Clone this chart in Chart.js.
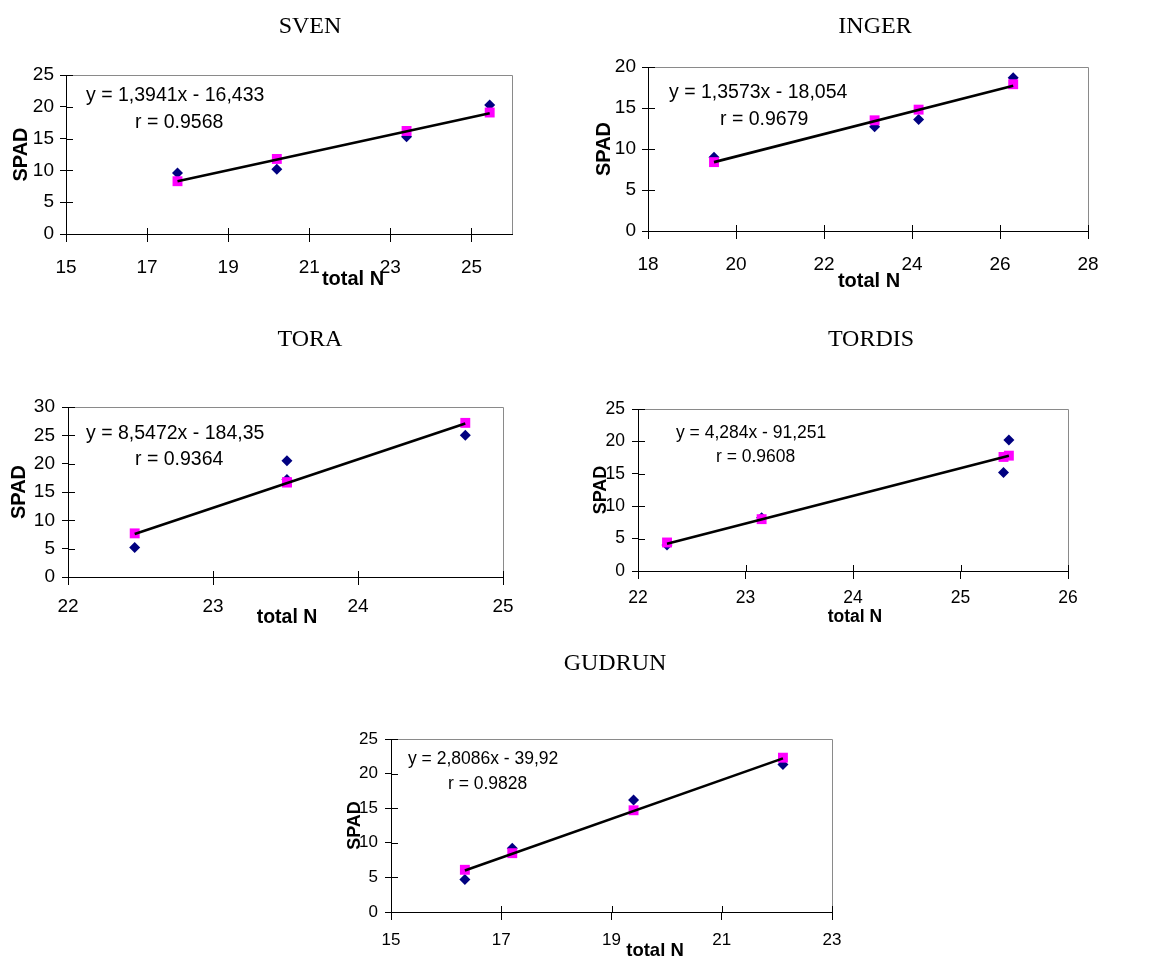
<!DOCTYPE html>
<html><head><meta charset="utf-8">
<script src="https://cdn.jsdelivr.net/npm/chart.js@4.4.0/dist/chart.umd.min.js"></script>
<style>
html,body{margin:0;padding:0;background:#fff;}
#wrap{position:relative;width:1165px;height:959px;overflow:hidden;background:#fff;}
canvas{position:absolute;left:0;top:0;}
.t{position:absolute;white-space:nowrap;line-height:1;color:#000;}
.title{font-family:"Liberation Serif","Times New Roman",serif;transform:translateX(-50%);}
.eq{font-family:"Liberation Sans",Arial,sans-serif;}
.xt{font-family:"Liberation Sans",Arial,sans-serif;font-weight:bold;transform:translateX(-50%);}
</style></head><body><div id="wrap"></div>
<script>
// ---------- data ----------
const svenN = [17.75, 20.2, 23.4, 25.45];
const svenSpad = [9.6, 10.2, 15.3, 20.3];
const svenFit = [8.3, 11.8, 16.2, 19.1];
const svenTrendN = [17.75, 25.45];
const svenTrendSpad = [8.3, 19.0];
const svenXTicks = [15, 17, 19, 21, 23, 25];
const svenYTicks = [0, 5, 10, 15, 20, 25];

const ingerN = [19.5, 23.15, 24.15, 26.3];
const ingerSpad = [9.0, 12.7, 13.6, 18.7];
const ingerFit = [8.4, 13.5, 14.8, 17.9];
const ingerTrendN = [19.5, 26.3];
const ingerTrendSpad = [8.4, 17.7];
const ingerXTicks = [18, 20, 22, 24, 26, 28];
const ingerYTicks = [0, 5, 10, 15, 20];

const toraN = [22.46, 23.51, 23.51, 24.74];
const toraSpad = [5.2, 20.5, 17.2, 25.0];
const toraFit = [7.7, 16.7, 16.7, 27.2];
const toraTrendN = [22.46, 24.74];
const toraTrendSpad = [7.6, 27.1];
const toraXTicks = [22, 23, 24, 25];
const toraYTicks = [0, 5, 10, 15, 20, 25, 30];

const tordisN = [22.27, 23.15, 25.40, 25.45];
const tordisSpad = [4.0, 8.2, 15.2, 20.2];
const tordisFit = [4.4, 8.0, 17.6, 17.8];
const tordisTrendN = [22.27, 25.45];
const tordisTrendSpad = [4.2, 17.8];
const tordisXTicks = [22, 23, 24, 25, 26];
const tordisYTicks = [0, 5, 10, 15, 20, 25];

const gudrunN = [16.34, 17.2, 19.4, 22.11];
const gudrunSpad = [4.7, 9.2, 16.2, 21.3];
const gudrunFit = [6.1, 8.5, 14.7, 22.3];
const gudrunTrendN = [16.34, 22.11];
const gudrunTrendSpad = [6.0, 22.2];
const gudrunXTicks = [15, 17, 19, 21, 23];
const gudrunYTicks = [0, 5, 10, 15, 20, 25];

const names = ['SVEN', 'INGER', 'TORA', 'TORDIS', 'GUDRUN'];
const equations = ['y = 1,3941x - 16,433', 'y = 1,3573x - 18,054', 'y = 8,5472x - 184,35', 'y = 4,284x - 91,251', 'y = 2,8086x - 39,92'];
const rValues = ['r = 0.9568', 'r = 0.9679', 'r = 0.9364', 'r = 0.9608', 'r = 0.9828'];
const xTitle = 'total N';
const yTitle = 'SPAD';

// ---------- layout ----------
const W = 1165, H = 959, WY = 70, HX = 46;
const specs = [
  {n:svenN, s:svenSpad, f:svenFit, tn:svenTrendN, ts:svenTrendSpad, xt:svenXTicks, yt:svenYTicks, xMax:26,
   box:[66,512,75,234], tick:19, xPad:14.5, yPad:6, spadOff:45, spadSize:20,
   eq:[86,95,19.5], r:[135,122], xtPos:[353,278,20], title:[310,33]},
  {n:ingerN, s:ingerSpad, f:ingerFit, tn:ingerTrendN, ts:ingerTrendSpad, xt:ingerXTicks, yt:ingerYTicks, xMax:28,
   box:[648,1088,67,231], tick:19, xPad:14.5, yPad:6, spadOff:44, spadSize:20,
   eq:[669,92,19.5], r:[720,119], xtPos:[869,280,20], title:[875,33]},
  {n:toraN, s:toraSpad, f:toraFit, tn:toraTrendN, ts:toraTrendSpad, xt:toraXTicks, yt:toraYTicks, xMax:25,
   box:[68,503,407,577], tick:19, xPad:10.5, yPad:7, spadOff:49, spadSize:20,
   eq:[86,433,19.5], r:[135,459], xtPos:[287,617,19.5], title:[310,346]},
  {n:tordisN, s:tordisSpad, f:tordisFit, tn:tordisTrendN, ts:tordisTrendSpad, xt:tordisXTicks, yt:tordisYTicks, xMax:26,
   box:[638,1068,409,571], tick:17.5, xPad:9, yPad:7, spadOff:37, spadSize:18,
   eq:[676,433,17.5], r:[716,457], xtPos:[855,617,17.5], title:[871,346]},
  {n:gudrunN, s:gudrunSpad, f:gudrunFit, tn:gudrunTrendN, ts:gudrunTrendSpad, xt:gudrunXTicks, yt:gudrunYTicks, xMax:23,
   box:[391,832,739,912], tick:17, xPad:10, yPad:7, spadOff:36, spadSize:18,
   eq:[408,759,17.5], r:[448,784], xtPos:[655,950,18.5], title:[615,670]}
];

const wrap = document.getElementById('wrap');
function addText(cls, txt, x, y, size, baseline) {
  const d = document.createElement('div');
  d.className = 't ' + cls;
  d.textContent = txt;
  d.style.fontSize = size + 'px';
  d.style.left = x + 'px';
  d.style.top = baseline ? (y - 0.8375 * size) + 'px' : (y - 0.49 * size) + 'px';
  wrap.appendChild(d);
}

const framePlugin = {
  id: 'frame',
  beforeDatasetsDraw(chart) {
    const {ctx, chartArea: a, scales: {x, y}} = chart;
    ctx.save();
    ctx.lineWidth = 1;
    ctx.strokeStyle = '#8a8a8a';
    ctx.beginPath();
    ctx.moveTo(a.left, a.top + 0.5);
    ctx.lineTo(a.right + 0.5, a.top + 0.5);
    ctx.lineTo(a.right + 0.5, a.bottom);
    ctx.stroke();
    ctx.strokeStyle = '#000';
    ctx.beginPath();
    x.ticks.forEach(t => { const px = Math.round(x.getPixelForValue(t.value)) + 0.5; ctx.moveTo(px, a.bottom); ctx.lineTo(px, a.bottom - 6); });
    y.ticks.forEach(t => { const py = Math.round(y.getPixelForValue(t.value)) + 0.5; ctx.moveTo(a.left, py); ctx.lineTo(a.left + 7, py); });
    ctx.stroke();
    ctx.restore();
  }
};

specs.forEach((c, i) => {
  const cv = document.createElement('canvas');
  cv.width = W; cv.height = H;
  cv.style.width = W + 'px'; cv.style.height = H + 'px';
  wrap.appendChild(cv);
  const [L, R, T, B] = c.box;
  const font = {family: '"Liberation Sans", Arial, sans-serif', size: c.tick};
  const spadLH = c.spadSize * 1.2;
  new Chart(cv.getContext('2d'), {
    type: 'scatter',
    data: {
      datasets: [
        {label: 'trend', data: c.tn.map((v, k) => ({x: v, y: c.ts[k]})), showLine: true, borderColor: '#000', borderWidth: 2.6, pointRadius: 0, order: 0},
        {label: 'fit', data: c.n.map((v, k) => ({x: v, y: c.f[k]})), pointStyle: 'rect', pointRadius: 7, backgroundColor: '#ff00ff', borderColor: '#ff00ff', borderWidth: 0, order: 1},
        {label: 'SPAD', data: c.n.map((v, k) => ({x: v, y: c.s[k]})), pointStyle: 'rectRot', pointRadius: 5.5, backgroundColor: '#000080', borderColor: '#000080', borderWidth: 0, order: 2}
      ]
    },
    options: {
      responsive: false, animation: false, devicePixelRatio: 1, events: [],
      layout: {padding: {left: L - WY, top: T, right: W - R, bottom: H - B - HX}},
      plugins: {legend: {display: false}, tooltip: {enabled: false}},
      scales: {
        x: {
          type: 'linear', min: c.xt[0], max: c.xMax,
          afterBuildTicks: s => { s.ticks = c.xt.map(v => ({value: v})); },
          afterFit: s => { s.height = HX; s.paddingLeft = 0; s.paddingRight = 0; },
          ticks: {font, color: '#000', padding: c.xPad, autoSkip: false, maxRotation: 0, minRotation: 0},
          grid: {drawOnChartArea: false, drawTicks: true, tickLength: 8, color: '#000', lineWidth: 1},
          border: {display: true, color: '#000', width: 1}
        },
        y: {
          type: 'linear', min: c.yt[0], max: c.yt[c.yt.length - 1],
          afterBuildTicks: s => { s.ticks = c.yt.map(v => ({value: v})); },
          afterFit: s => { s.width = WY; s.paddingTop = 0; s.paddingBottom = 0; },
          ticks: {font, color: '#000', padding: c.yPad, autoSkip: false},
          grid: {drawOnChartArea: false, drawTicks: true, tickLength: 6, color: '#000', lineWidth: 1},
          border: {display: true, color: '#000', width: 1},
          title: {display: true, text: yTitle, color: '#000',
            font: {family: '"Liberation Sans", Arial, sans-serif', size: c.spadSize, weight: 'bold', lineHeight: 1.2},
            padding: {top: WY - c.spadOff - spadLH / 2, bottom: 0}}
        }
      }
    },
    plugins: [framePlugin]
  });
  addText('title', names[i], c.title[0], c.title[1], 24, true);
  addText('eq', equations[i], c.eq[0], c.eq[1], c.eq[2]);
  addText('eq', rValues[i], c.r[0], c.r[1], c.eq[2]);
  addText('xt', xTitle, c.xtPos[0], c.xtPos[1], c.xtPos[2]);
});
</script></body></html>
